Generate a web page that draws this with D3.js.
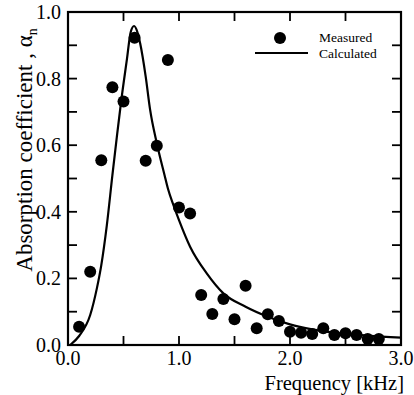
<!DOCTYPE html>
<html>
<head>
<meta charset="utf-8">
<script src="https://cdn.jsdelivr.net/npm/d3@7"></script>
<style>
  body { margin:0; background:#fff; }
</style>
</head>
<body>
<svg id="chart" width="414" height="395"></svg>
<script>
// measured points
var measFreq  = [0.1,0.2,0.3,0.4,0.5,0.6,0.7,0.8,0.9,1.0,1.1,1.2,1.3,1.4,1.5,1.6,1.7,1.8,1.9,2.0,2.1,2.2,2.3,2.4,2.5,2.6,2.7,2.8];
var measAlpha = [0.055,0.22,0.555,0.774,0.731,0.923,0.553,0.598,0.856,0.413,0.395,0.150,0.093,0.138,0.077,0.178,0.050,0.092,0.072,0.040,0.037,0.033,0.050,0.030,0.035,0.030,0.018,0.018];
// calculated curve
var calcFreq  = [0.02,0.1,0.2,0.26,0.3,0.35,0.4,0.44,0.48,0.53,0.565,0.595,0.625,0.65,0.7,0.74,0.8,0.87,0.9,0.95,1.0,1.1,1.25,1.4,1.6,1.8,2.0,2.2,2.4,2.7,3.0];
var calcAlpha = [0,0.027,0.09,0.17,0.24,0.36,0.51,0.625,0.735,0.856,0.94,0.958,0.94,0.906,0.806,0.706,0.606,0.51,0.47,0.42,0.375,0.295,0.215,0.155,0.115,0.085,0.062,0.047,0.037,0.028,0.022];
var xTicks = [0,0.5,1,1.5,2,2.5,3];
var xLabels = [0,1,2,3];
var yTicks = [0,0.1,0.2,0.3,0.4,0.5,0.6,0.7,0.8,0.9,1.0];
var yLabels = [0,0.2,0.4,0.6,0.8,1.0];

// pick whichever serif face is really installed
var ctx = document.createElement("canvas").getContext("2d");
function hasFont(f){
  ctx.font = "20px monospace"; var a = ctx.measureText("Absorption coefficient 0.8").width;
  ctx.font = "20px '"+f+"', monospace"; var b = ctx.measureText("Absorption coefficient 0.8").width;
  return a != b;
}
var cands = ["Liberation Serif","Tinos","Times New Roman","Times","DejaVu Serif","Noto Serif","FreeSerif","Nimbus Roman","serif"];
var face = "serif";
for (var i=0;i<cands.length;i++){ if (hasFont(cands[i])) { face = cands[i]; break; } }

var svg = d3.select("#chart").style("font-family","'"+face+"', serif");
var L = 68, R = 401, T = 12, B = 345;
var x = d3.scaleLinear().domain([0,3]).range([L,R]);
var y = d3.scaleLinear().domain([0,1]).range([B,T]);
var tl = 9;

// ticks, inward on all sides
var g = svg.append("g").attr("stroke","#000").attr("stroke-width",1.8);
xTicks.forEach(function(t){
  g.append("line").attr("x1",x(t)).attr("x2",x(t)).attr("y1",B).attr("y2",B-tl);
  g.append("line").attr("x1",x(t)).attr("x2",x(t)).attr("y1",T).attr("y2",T+tl);
});
yTicks.forEach(function(t){
  g.append("line").attr("x1",L).attr("x2",L+tl).attr("y1",y(t)).attr("y2",y(t));
  g.append("line").attr("x1",R).attr("x2",R-tl).attr("y1",y(t)).attr("y2",y(t));
});

// curve
var pts = calcFreq.map(function(f,i){ return [f, calcAlpha[i]]; });
var line = d3.line().x(function(d){return x(d[0]);}).y(function(d){return y(d[1]);}).curve(d3.curveMonotoneX);
svg.append("path").datum(pts).attr("d",line).attr("fill","none").attr("stroke","#000").attr("stroke-width",2.2);

// measured dots
svg.selectAll("circle.m").data(measFreq).enter().append("circle")
  .attr("class","m")
  .attr("cx",function(d){return x(d);})
  .attr("cy",function(d,i){return y(measAlpha[i]);})
  .attr("r",6).attr("fill","#000");

// frame
svg.append("rect").attr("x",L).attr("y",T).attr("width",R-L).attr("height",B-T)
  .attr("fill","none").attr("stroke","#000").attr("stroke-width",2.2);

// tick labels
svg.selectAll("text.xl").data(xLabels).enter().append("text")
  .attr("x",function(d){return x(d);}).attr("y",365)
  .attr("text-anchor","middle").attr("font-size",20)
  .text(function(d){return d3.format(".1f")(d);});
svg.selectAll("text.yl").data(yLabels).enter().append("text")
  .attr("x",61).attr("y",function(d){return y(d)+7;})
  .attr("text-anchor","end").attr("font-size",20)
  .text(function(d){return d3.format(".1f")(d);});

// axis titles
svg.append("text").attr("x",404).attr("y",390).attr("text-anchor","end").attr("font-size",20.5)
  .text("Frequency [kHz]");
var yt = svg.append("text").attr("transform","translate(32,150) rotate(-90)")
  .attr("text-anchor","middle").attr("font-size",23);
yt.append("tspan").text("Absorption coefficient , \u03b1");
yt.append("tspan").attr("font-size",14).attr("dy",5).text("n");

// legend
svg.append("circle").attr("cx",280).attr("cy",38).attr("r",6).attr("fill","#000");
svg.append("line").attr("x1",255).attr("x2",308).attr("y1",53).attr("y2",53).attr("stroke","#000").attr("stroke-width",2);
svg.append("text").attr("x",319).attr("y",42).attr("font-size",13.5).text("Measured");
svg.append("text").attr("x",319).attr("y",58).attr("font-size",13.5).text("Calculated");
</script>
</body>
</html>
